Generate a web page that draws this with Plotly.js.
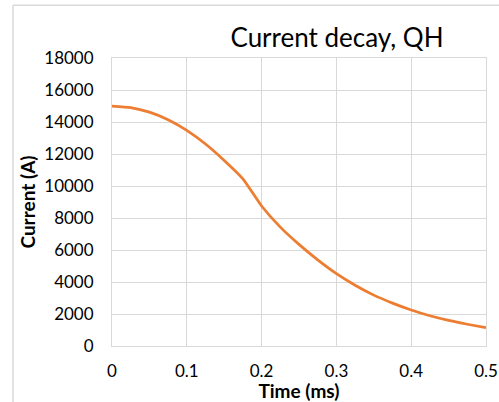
<!DOCTYPE html>
<html>
<head>
<meta charset="utf-8">
<script src="https://cdn.plot.ly/plotly-3.0.1.min.js"></script>
<style>html,body{margin:0;padding:0;background:#fff;}#chart{width:499px;height:402px;}</style>
</head>
<body>
<div id="chart"></div>
<script>
// Time (ms)
var timeMs = [0, 0.025, 0.05, 0.075, 0.1, 0.125, 0.15, 0.175, 0.2, 0.225, 0.25, 0.275, 0.3, 0.325, 0.35, 0.375, 0.4, 0.425, 0.45, 0.475, 0.5];
// Current (A)
var currentA = [15000, 14905, 14620, 14145, 13480, 12625, 11600, 10450, 8750, 7430, 6350, 5380, 4520, 3800, 3180, 2680, 2250, 1890, 1600, 1360, 1150];
var xTicks = [0, 0.1, 0.2, 0.3, 0.4, 0.5];
var yTicks = [0, 2000, 4000, 6000, 8000, 10000, 12000, 14000, 16000, 18000];

var FONT = 'Lato, "Open Sans", sans-serif';
var GRID = '#d9d9d9';

var trace = {
  x: timeMs, y: currentA, type: 'scatter', mode: 'lines',
  line: {color: '#ED7D31', width: 2.75, shape: 'spline', smoothing: 0.5},
  hoverinfo: 'x+y'
};

var layout = {
  width: 499, height: 402,
  margin: {l: 112, r: 13, t: 58, b: 56},
  paper_bgcolor: '#fff', plot_bgcolor: '#fff',
  showlegend: false,
  font: {family: FONT, color: '#000', size: 17},
  title: {text: 'Current decay, QH', font: {family: FONT, size: 26, color: '#000'},
          x: 337/499, xref: 'container', xanchor: 'center',
          y: 1 - 38/402, yref: 'container', yanchor: 'middle'},
  xaxis: {
    range: [0, 0.5], tickvals: xTicks, ticktext: xTicks.map(String),
    showgrid: true, gridcolor: GRID, gridwidth: 1,
    zeroline: false, showline: true, linecolor: GRID, linewidth: 1, mirror: true,
    ticks: 'outside', ticklen: 10, tickcolor: 'rgba(0,0,0,0)',
    tickfont: {family: FONT, size: 17, color: '#000'},
    title: {text: '<b>Time (ms)</b>', font: {family: FONT, size: 19, color: '#000'}, standoff: 2},
    automargin: false, fixedrange: true
  },
  yaxis: {
    range: [0, 18000], tickvals: yTicks, ticktext: yTicks.map(String),
    showgrid: true, gridcolor: GRID, gridwidth: 1,
    zeroline: false, showline: true, linecolor: GRID, linewidth: 1, mirror: true,
    ticks: 'outside', ticklen: 14, tickcolor: 'rgba(0,0,0,0)',
    tickfont: {family: FONT, size: 17, color: '#000'},
    title: {text: '<b>Current (A)</b>', font: {family: FONT, size: 19, color: '#000'}, standoff: 3},
    automargin: false, fixedrange: true
  },
  shapes: [
    {type: 'line', xref: 'paper', yref: 'paper', x0: (13-112)/374, x1: (520-112)/374,
     y0: (346-5)/288.3, y1: (346-5)/288.3, line: {color: GRID, width: 1.5}},
    {type: 'line', xref: 'paper', yref: 'paper', x0: (13-112)/374, x1: (13-112)/374,
     y0: (346-5)/288.3, y1: (346-420)/288.3, line: {color: GRID, width: 1.5}}
  ]
};

Plotly.newPlot('chart', [trace], layout, {displayModeBar: false, staticPlot: true});
</script>
</body>
</html>
